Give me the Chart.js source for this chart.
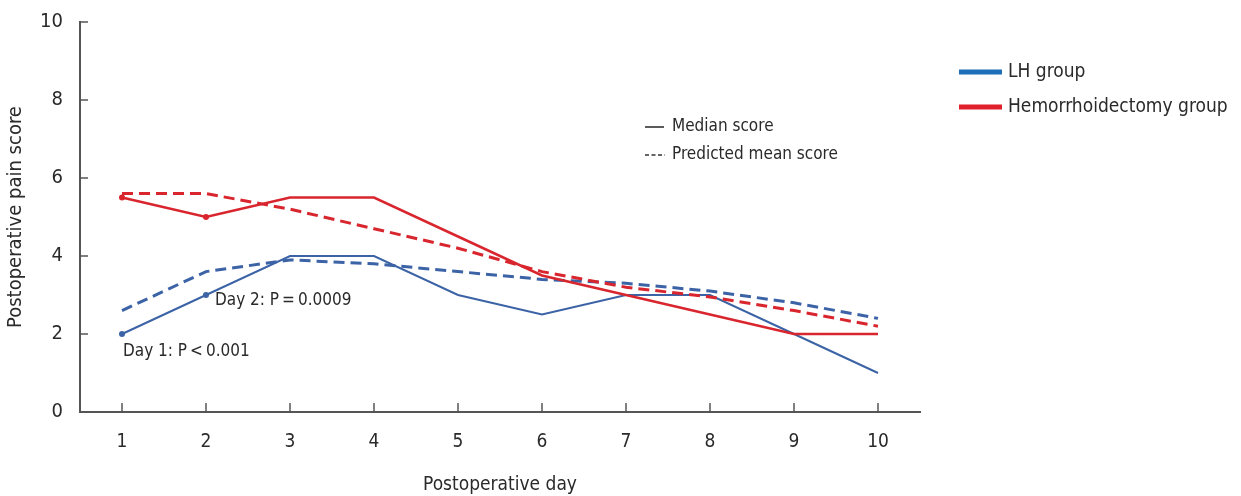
<!DOCTYPE html>
<html>
<head>
<meta charset="utf-8">
<script src="https://cdn.jsdelivr.net/npm/chart.js@4.4.0/dist/chart.umd.min.js"></script>
<style>
  html, body { margin: 0; padding: 0; background: #fff; }
  #wrap { width: 1241px; height: 496px; }
</style>
</head>
<body>
<div id="wrap"><canvas id="myChart" width="1241" height="496"></canvas></div>
<script>
var days = [1, 2, 3, 4, 5, 6, 7, 8, 9, 10];
var yTicks = [0, 2, 4, 6, 8, 10];
var lhMedian = [2, 3, 4, 4, 3, 2.5, 3, 3, 2, 1];
var lhPredicted = [2.6, 3.6, 3.9, 3.8, 3.6, 3.4, 3.3, 3.1, 2.8, 2.4];
var hemoMedian = [5.5, 5, 5.5, 5.5, 4.5, 3.5, 3, 2.5, 2, 2];
var hemoPredicted = [5.6, 5.6, 5.2, 4.7, 4.2, 3.6, 3.2, 2.95, 2.6, 2.2];
var groupNames = ["LH group", "Hemorrhoidectomy group"];
var styleNames = ["Median score", "Predicted mean score"];
var notes = [
  { day: 1, value: 2, text: "Day 1: P\u2009<\u20090.001" },
  { day: 2, value: 3, text: "Day 2: P\u2009=\u20090.0009" }
];

var blue = "#3b63a6";
var red = "#d9262e";
var font = "'DejaVu Sans Condensed', 'Liberation Sans Narrow', sans-serif";
var axisColor = "#555";
var textColor = "#2a2a2a";

function pts(arr) {
  return arr.map(function(v, i) { return { x: days[i], y: v }; });
}
// dots only on the first two median points
function dots(r) {
  return function(c) { return c.dataIndex < 2 ? r : 0; };
}

var extras = {
  id: "extras",
  afterDraw: function(chart) {
    var ctx = chart.ctx;
    var xs = chart.scales.x, ys = chart.scales.y;
    var a = chart.chartArea;
    ctx.save();
    // inward ticks
    ctx.strokeStyle = axisColor;
    ctx.lineWidth = 1.5;
    days.forEach(function(d) {
      var px = xs.getPixelForValue(d);
      ctx.beginPath(); ctx.moveTo(px, a.bottom); ctx.lineTo(px, a.bottom - 9); ctx.stroke();
    });
    yTicks.forEach(function(t) {
      var py = ys.getPixelForValue(t);
      ctx.beginPath(); ctx.moveTo(a.left, py); ctx.lineTo(a.left + 8, py); ctx.stroke();
    });

    // p-value notes
    ctx.fillStyle = textColor;
    ctx.font = "17px " + font;
    ctx.textBaseline = "middle";
    ctx.textAlign = "left";
    var p1 = notes[0];
    ctx.fillText(p1.text, xs.getPixelForValue(p1.day) + 1, ys.getPixelForValue(p1.value) + 18);
    var p2 = notes[1];
    ctx.fillText(p2.text, xs.getPixelForValue(p2.day) + 9, ys.getPixelForValue(p2.value) + 6);

    // line style key
    ctx.strokeStyle = "#333";
    ctx.lineWidth = 1.6;
    ctx.beginPath(); ctx.moveTo(645, 127); ctx.lineTo(664, 127); ctx.stroke();
    ctx.setLineDash([4, 2.5]);
    ctx.beginPath(); ctx.moveTo(645, 155); ctx.lineTo(665, 155); ctx.stroke();
    ctx.setLineDash([]);
    ctx.fillText(styleNames[0], 672, 127);
    ctx.fillText(styleNames[1], 672, 155);

    // group legend
    ctx.font = "19px " + font;
    ctx.lineWidth = 5;
    ctx.strokeStyle = "#1f6fb8";
    ctx.beginPath(); ctx.moveTo(959, 72); ctx.lineTo(1002, 72); ctx.stroke();
    ctx.strokeStyle = "#e0202a";
    ctx.beginPath(); ctx.moveTo(959, 107); ctx.lineTo(1002, 107); ctx.stroke();
    ctx.fillText(groupNames[0], 1008, 72);
    ctx.fillText(groupNames[1], 1008, 107);
    ctx.restore();
  }
};

new Chart(document.getElementById("myChart"), {
  type: "line",
  data: {
    datasets: [
      { label: groupNames[1] + " median", data: pts(hemoMedian), borderColor: red, backgroundColor: red,
        borderWidth: 2.5, pointRadius: dots(3), pointBorderWidth: 0 },
      { label: groupNames[1] + " predicted", data: pts(hemoPredicted), borderColor: red,
        borderWidth: 3, borderDash: [11, 6], pointRadius: 0 },
      { label: groupNames[0] + " predicted", data: pts(lhPredicted), borderColor: blue,
        borderWidth: 3, borderDash: [11, 6], pointRadius: 0 },
      { label: groupNames[0] + " median", data: pts(lhMedian), borderColor: blue, backgroundColor: blue,
        borderWidth: 2, pointRadius: dots(3), pointBorderWidth: 0 }
    ]
  },
  options: {
    responsive: false,
    animation: false,
    layout: { padding: { top: 22, right: 321, left: 0, bottom: 0 } },
    plugins: { legend: { display: false }, tooltip: { enabled: false } },
    elements: { line: { tension: 0 } },
    scales: {
      x: {
        type: "linear", min: 0.5, max: 10.5,
        afterBuildTicks: function(s) { s.ticks = days.map(function(d) { return { value: d }; }); },
        afterFit: function(s) { s.height = 84; s.paddingLeft = 0; s.paddingRight = 0; },
        grid: { display: false },
        border: { display: true, color: axisColor, width: 2 },
        ticks: { padding: 11, color: textColor, font: { family: font, size: 19 } },
        title: { display: true, text: "Postoperative day", color: textColor, font: { family: font, size: 19 }, padding: { top: 22, bottom: 0 } }
      },
      y: {
        min: 0, max: 10,
        afterBuildTicks: function(s) { s.ticks = yTicks.map(function(t) { return { value: t }; }); },
        afterFit: function(s) { s.width = 80; s.paddingTop = 0; s.paddingBottom = 0; },
        grid: { display: false },
        border: { display: true, color: axisColor, width: 2 },
        ticks: { padding: 9, color: textColor, font: { family: font, size: 20 } },
        title: { display: true, text: "Postoperative pain score", color: textColor, font: { family: font, size: 20 }, padding: { bottom: 6 } }
      }
    }
  },
  plugins: [extras]
});
</script>
</body>
</html>
